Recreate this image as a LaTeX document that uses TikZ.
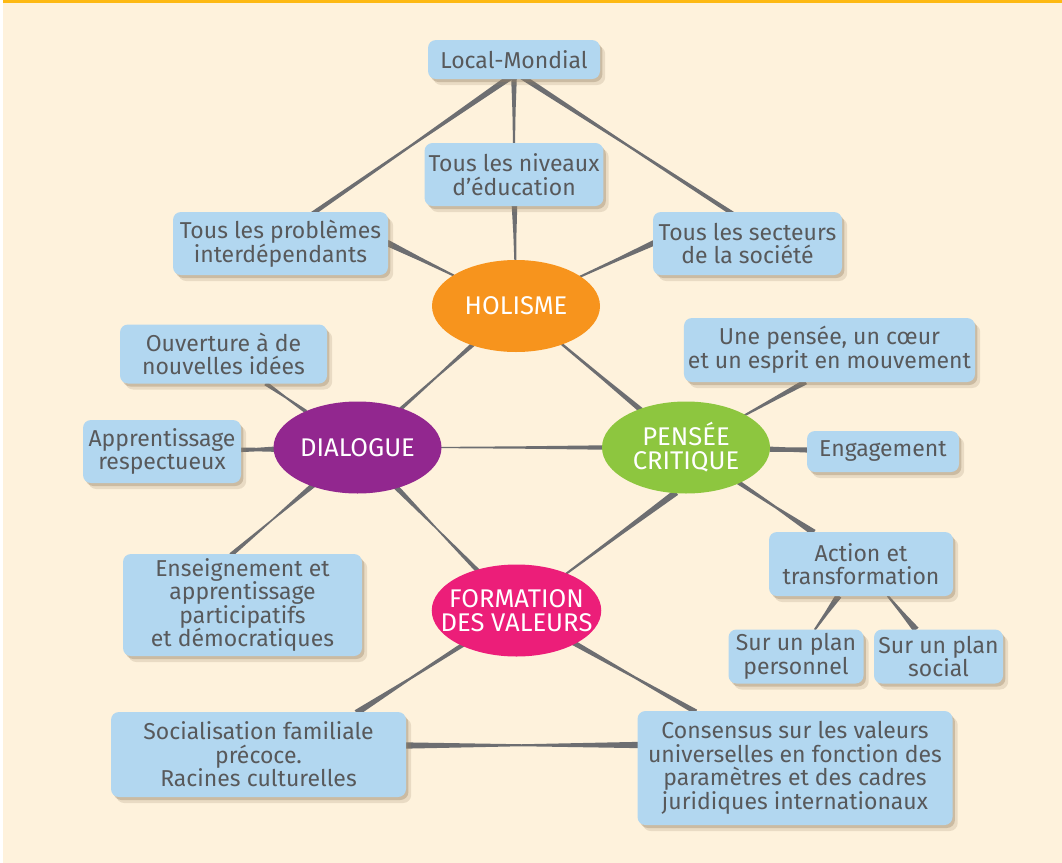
\documentclass[tikz,border=0pt]{standalone}
\usepackage{fontspec}
\setmainfont{Fira Sans}
\usepackage{xcolor}
\usepackage{tikz}
\usetikzlibrary{
    calc,
    shapes.geometric,
    shadows
}
\definecolor{paperCream}{RGB}{254, 242, 220}
\definecolor{frameOrange}{RGB}{253, 185, 19}
\definecolor{boxBlue}{RGB}{178, 215, 240}
\definecolor{textGray}{RGB}{88, 89, 91}
\definecolor{linkGray}{RGB}{109, 110, 113}
\definecolor{shadowTan}{RGB}{150, 130, 100}
\definecolor{holOrange}{RGB}{247, 148, 29}
\definecolor{diaPurple}{RGB}{146, 39, 143}
\definecolor{penGreen}{RGB}{141, 198, 63}
\definecolor{forPink}{RGB}{236, 30, 121}

\pgfdeclarelayer{paper}
\pgfdeclarelayer{links}
\pgfsetlayers{paper,links,main}

% lien effilé : de, vers, demi-largeurs (début, milieu, fin)
\newcommand{\taperlink}[5]{%
    \path (#1) -- coordinate[pos=-0.02] (lkA) coordinate[pos=1.02] (lkB) (#2);
    \coordinate (lkM) at ($(lkA)!0.5!(lkB)$);
    \fill[linkGray] ($(lkA)!#3!90:(lkB)$) -- ($(lkM)!#4!90:(lkB)$) -- ($(lkB)!#5!-90:(lkA)$)
        -- ($(lkB)!#5!90:(lkA)$) -- ($(lkM)!#4!-90:(lkB)$) -- ($(lkA)!#3!-90:(lkB)$) -- cycle;
}

\begin{document}
\begin{tikzpicture}[x=0.5pt, y=-0.5pt,
    box/.style={fill=boxBlue, rounded corners=4pt, text=textGray, align=center,
        inner sep=2pt, font=\fontsize{11.5}{11.8}\selectfont,
        drop shadow={shadow xshift=1.2pt, shadow yshift=-1.5pt, fill=shadowTan, opacity=0.35},
        drop shadow={shadow xshift=2.6pt, shadow yshift=-3pt, fill=shadowTan, opacity=0.2}},
    blob/.style={ellipse, minimum width=84pt, minimum height=46pt, inner xsep=-8pt, inner ysep=0pt,
        text=white, align=center, font=\fontsize{12.8}{12}\selectfont}]
    \useasboundingbox (0,0) rectangle (1062,863);

    % fond
    \begin{pgfonlayer}{paper}
        \fill[white] (0,0) rectangle (1062,863);
        \fill[paperCream] (3,0) rectangle (1062,863);
        \fill[frameOrange] (3,0) rectangle (1062,2.5);
    \end{pgfonlayer}

    % notions
    \node[blob, fill=holOrange] (hol) at (516,306) {HOLISME};
    \node[blob, fill=diaPurple] (dia) at (357.5,447.5) {DIALOGUE};
    \node[blob, fill=penGreen] (pen) at (686,447.5) {PENSÉE\\CRITIQUE};
    \node[blob, fill=forPink] (for) at (516.5,610.5) {FORMATION\\DES VALEURS};

    % cases
    \node[box, minimum width=86pt, minimum height=19.5pt] (lm) at (514,59.5) {Local-Mondial};
    \node[box, minimum width=89pt, minimum height=31.5pt] (niv) at (514,174.5) {Tous les niveaux\\d’éducation};
    \node[box, minimum width=107.5pt, minimum height=31.5pt] (prob) at (280.5,243.5) {Tous les problèmes\\interdépendants};
    \node[box, minimum width=94.5pt, minimum height=31.5pt] (sect) at (747.5,243.5) {Tous les secteurs\\de la société};
    \node[box, minimum width=103.5pt, minimum height=29.5pt] (ouv) at (223.5,354) {Ouverture à de\\nouvelles idées};
    \node[box, minimum width=79pt, minimum height=31.5pt] (appr) at (162,451.5) {Apprentissage\\respectueux};
    \node[box, minimum width=119.5pt, minimum height=51pt] (ens) at (242.5,605) {Enseignement et\\apprentissage\\participatifs\\et démocratiques};
    \node[box, minimum width=143.5pt, minimum height=32pt] (upc) at (829.5,350) {Une pensée, un cœur\\et un esprit en mouvement};
    \node[box, minimum width=76pt, minimum height=20.5pt] (eng) at (883,451.5) {Engagement};
    \node[box, minimum width=92pt, minimum height=32pt] (act) at (861,564) {Action et\\transformation};
    \node[box, minimum width=67.5pt, minimum height=27pt] (pers) at (796,656.5) {Sur un plan\\personnel};
    \node[box, minimum width=64.5pt, minimum height=27pt] (soc) at (938.5,656.5) {Sur un plan\\social};
    \node[box, minimum width=147.5pt, minimum height=42.5pt] (socf) at (258.5,754.5) {Socialisation familiale\\précoce.\\Racines culturelles};
    \node[box, minimum width=157.5pt, minimum height=57pt] (cons) at (795,768) {Consensus sur les valeurs\\universelles en fonction des\\paramètres et des cadres\\juridiques internationaux};

    % liens
    \begin{pgfonlayer}{links}
        \taperlink{$(lm.south)+(-7,0)$}{$(prob.north)+(35,0)$}{1.6pt}{0.6pt}{1.1pt}
        \taperlink{lm}{niv}{1.4pt}{0.8pt}{0.5pt}
        \taperlink{$(lm.south)+(12,0)$}{$(sect.north)+(-18,0)$}{1.4pt}{0.6pt}{1.1pt}
        \taperlink{prob.east}{hol}{1.6pt}{0.9pt}{0.5pt}
        \taperlink{niv}{hol}{1.4pt}{0.8pt}{0.5pt}
        \taperlink{sect.west}{hol}{1.4pt}{0.8pt}{0.5pt}
        \taperlink{hol}{dia}{1.1pt}{0.5pt}{0.9pt}
        \taperlink{hol}{pen}{0.6pt}{0.8pt}{1.3pt}
        \taperlink{dia}{pen}{0.3pt}{0.6pt}{1.1pt}
        \taperlink{ouv}{dia}{1.1pt}{0.5pt}{0.9pt}
        \taperlink{appr}{dia}{1.1pt}{0.9pt}{1.3pt}
        \taperlink{dia}{$(ens.north)+(-10,0)$}{1.3pt}{0.4pt}{1.1pt}
        \taperlink{dia}{for}{1.3pt}{0.4pt}{1.1pt}
        \taperlink{$(pen.south)+(-12,0)$}{for}{1.6pt}{0.9pt}{0.5pt}
        \taperlink{pen}{$(upc.south)+(-25,0)$}{0.5pt}{0.9pt}{1.4pt}
        \taperlink{pen}{eng}{1.3pt}{1.1pt}{1.3pt}
        \taperlink{pen}{act}{1.1pt}{0.6pt}{1.6pt}
        \taperlink{act}{pers}{1.6pt}{0.9pt}{0.5pt}
        \taperlink{act}{soc}{0.5pt}{0.9pt}{1.6pt}
        \taperlink{for}{$(socf.north)+(100,0)$}{1.1pt}{0.6pt}{1.6pt}
        \taperlink{for}{cons}{1.3pt}{0.6pt}{1.3pt}
        \taperlink{$(socf.east)+(0,-9)$}{$(cons.west)+(0,-23)$}{1.6pt}{0.5pt}{1.6pt}
    \end{pgfonlayer}
\end{tikzpicture}
\end{document}
